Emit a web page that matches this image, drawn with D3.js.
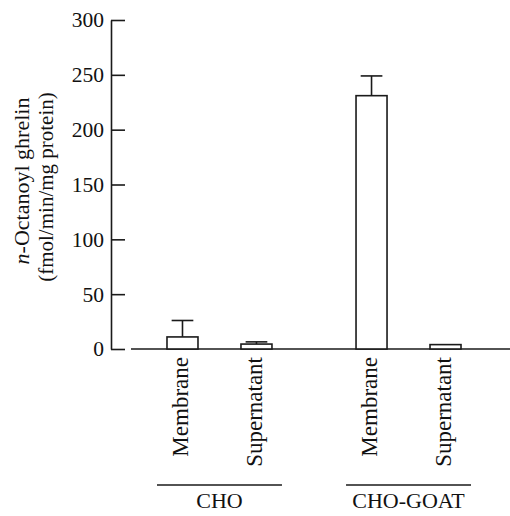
<!DOCTYPE html>
<html>
<head>
<meta charset="utf-8">
<script src="https://cdn.jsdelivr.net/npm/d3@7"></script>
<style>
  body { margin: 0; background: #fff; }
  svg { display: block; }
  text { font-family: "Liberation Serif", "Times New Roman", serif; fill: #111; }
</style>
</head>
<body>
<div id="chart"></div>
<script>
// data
var groups = ['CHO', 'CHO-GOAT'];
var fractions = ['Membrane', 'Supernatant'];
var means = [
    [11, 4.5],     // CHO: membrane, supernatant
    [231, 4]       // CHO-GOAT
];
var errors = [
    [15, 2],
    [18, 0]
];
var yTicks = [0, 50, 100, 150, 200, 250, 300];

var rows = [];
groups.forEach(function(g, i) {
    fractions.forEach(function(f, j) {
        rows.push({group: g, fraction: f, value: means[i][j], err: errors[i][j]});
    });
});

var width = 510, height = 516;
var ink = '#1a1a1a';

var svg = d3.select('#chart')
    .append('svg')
    .attr('width', width)
    .attr('height', height);

// scales
var y = d3.scaleLinear()
    .domain([0, 300])
    .range([349, 20]);

var xGroup = d3.scaleBand()
    .domain(groups)
    .range([157, 471])
    .paddingInner(0.339)
    .paddingOuter(0);

var xInner = d3.scaleBand()
    .domain(fractions)
    .range([0, xGroup.bandwidth()])
    .paddingInner(0.581)
    .paddingOuter(0.135);

var xPos = function(d) { return xGroup(d.group) + xInner(d.fraction); };

// y axis, ticks pointing inward
var yAxis = svg.append('g')
    .attr('transform', 'translate(111,0)')
    .call(d3.axisLeft(y).tickValues(yTicks).tickSizeInner(-14).tickSizeOuter(0).tickPadding(7));

yAxis.select('.domain').attr('stroke', ink).attr('stroke-width', 1.6);
yAxis.selectAll('.tick line').attr('stroke', ink).attr('stroke-width', 1.6);
yAxis.selectAll('.tick text')
    .style('font-family', '"Liberation Serif", "Times New Roman", serif')
    .style('font-size', '21.5px')
    .attr('fill', '#111');

// baseline
svg.append('line')
    .attr('x1', 131).attr('x2', 510)
    .attr('y1', y(0)).attr('y2', y(0))
    .attr('stroke', ink)
    .attr('stroke-width', 1.6);

// error bars (drawn first so bar top covers the stem root)
var eb = svg.selectAll('.err')
    .data(rows.filter(function(d) { return d.err > 0; }))
    .enter()
    .append('g')
    .attr('class', 'err');

eb.append('line')
    .attr('x1', function(d) { return xPos(d) + xInner.bandwidth() / 2; })
    .attr('x2', function(d) { return xPos(d) + xInner.bandwidth() / 2; })
    .attr('y1', function(d) { return y(d.value); })
    .attr('y2', function(d) { return y(d.value + d.err); })
    .attr('stroke', ink)
    .attr('stroke-width', 1.6);

eb.append('line')
    .attr('x1', function(d) { return xPos(d) + xInner.bandwidth() * 0.15; })
    .attr('x2', function(d) { return xPos(d) + xInner.bandwidth() * 0.85; })
    .attr('y1', function(d) { return y(d.value + d.err); })
    .attr('y2', function(d) { return y(d.value + d.err); })
    .attr('stroke', ink)
    .attr('stroke-width', 1.6);

// bars
svg.selectAll('.bar')
    .data(rows)
    .enter()
    .append('rect')
    .attr('class', 'bar')
    .attr('x', xPos)
    .attr('y', function(d) { return y(d.value); })
    .attr('width', xInner.bandwidth())
    .attr('height', function(d) { return y(0) - y(d.value); })
    .attr('fill', '#fff')
    .attr('stroke', ink)
    .attr('stroke-width', 1.6);

// rotated fraction labels
svg.selectAll('.flabel')
    .data(rows)
    .enter()
    .append('text')
    .attr('class', 'flabel')
    .attr('transform', function(d) {
        return 'translate(' + (xPos(d) + xInner.bandwidth() / 2) + ',357) rotate(-90)';
    })
    .attr('text-anchor', 'end')
    .attr('dy', '0.24em')
    .style('font-size', '23px')
    .text(function(d) { return d.fraction; });

// group underlines + names
svg.selectAll('.gline')
    .data(groups)
    .enter()
    .append('line')
    .attr('x1', function(d) { return xGroup(d); })
    .attr('x2', function(d) { return xGroup(d) + xGroup.bandwidth(); })
    .attr('y1', 485).attr('y2', 485)
    .attr('stroke', ink)
    .attr('stroke-width', 1.6);

svg.selectAll('.glabel')
    .data(groups)
    .enter()
    .append('text')
    .attr('x', function(d) { return xGroup(d) + xGroup.bandwidth() / 2; })
    .attr('y', 508)
    .attr('text-anchor', 'middle')
    .style('font-size', '22px')
    .text(function(d) { return d; });

// y axis title, two lines
var yTitle = svg.append('text')
    .attr('transform', 'translate(29,181) rotate(-90)')
    .attr('text-anchor', 'middle')
    .style('font-size', '22px');
yTitle.append('tspan').style('font-style', 'italic').text('n');
yTitle.append('tspan').text('-Octanoyl ghrelin');

svg.append('text')
    .attr('transform', 'translate(53,187) rotate(-90)')
    .attr('text-anchor', 'middle')
    .style('font-size', '21px')
    .text('(fmol/min/mg protein)');
</script>
</body>
</html>
